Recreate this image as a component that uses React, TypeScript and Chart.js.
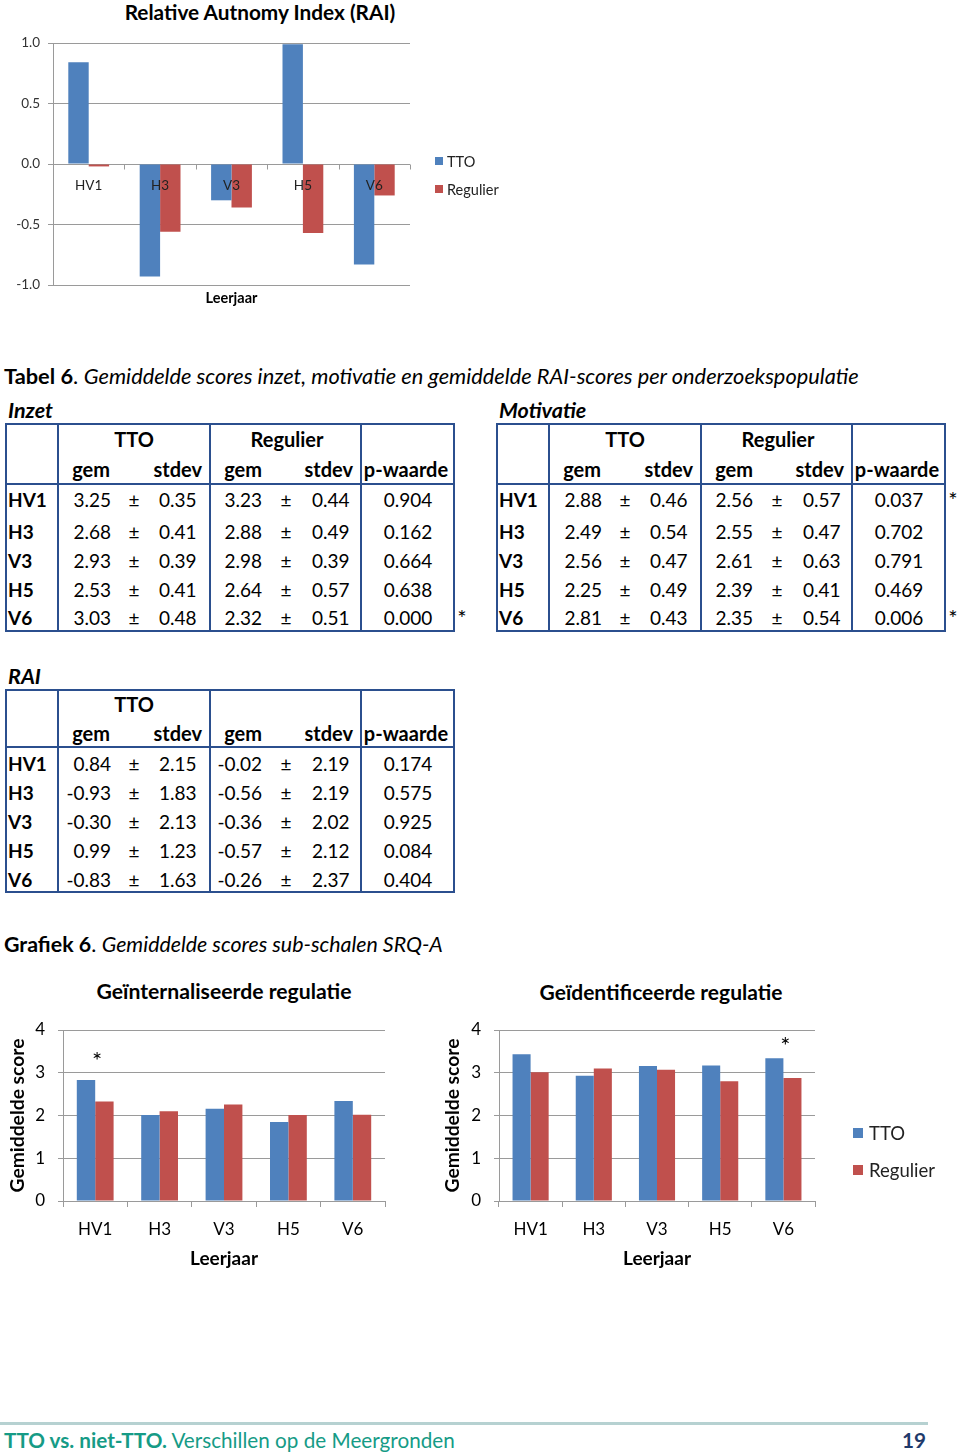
import React, { useEffect, useRef } from "react";
import { Chart, registerables } from "chart.js";

Chart.register(...registerables);

const FONT = "Lato, 'Noto Sans', sans-serif";
Chart.defaults.font.family = FONT;

// ---------- DATA ----------
const categories = ["HV1", "H3", "V3", "H5", "V6"];

// RAI (chart + table)
const raiTTO = [0.84, -0.93, -0.3, 0.99, -0.83];
const raiReg = [-0.02, -0.56, -0.36, -0.57, -0.26];
const raiTTOsd = ["2.15", "1.83", "2.13", "1.23", "1.63"];
const raiRegsd = ["2.19", "2.19", "2.02", "2.12", "2.37"];
const raiP = ["0.174", "0.575", "0.925", "0.084", "0.404"];
const raiSig = [false, false, false, false, false];
const raiTicks = [-1, -0.5, 0, 0.5, 1];

// Inzet table
const inzetTTOgem = ["3.25", "2.68", "2.93", "2.53", "3.03"];
const inzetTTOsd = ["0.35", "0.41", "0.39", "0.41", "0.48"];
const inzetReggem = ["3.23", "2.88", "2.98", "2.64", "2.32"];
const inzetRegsd = ["0.44", "0.49", "0.39", "0.57", "0.51"];
const inzetP = ["0.904", "0.162", "0.664", "0.638", "0.000"];
const inzetSig = [false, false, false, false, true];

// Motivatie table
const motTTOgem = ["2.88", "2.49", "2.56", "2.25", "2.81"];
const motTTOsd = ["0.46", "0.54", "0.47", "0.49", "0.43"];
const motReggem = ["2.56", "2.55", "2.61", "2.39", "2.35"];
const motRegsd = ["0.57", "0.47", "0.63", "0.41", "0.54"];
const motP = ["0.037", "0.702", "0.791", "0.469", "0.006"];
const motSig = [true, false, false, false, true];

// Grafiek 6
const internTTO = [2.83, 2.01, 2.16, 1.85, 2.34];
const internReg = [2.33, 2.1, 2.26, 2.01, 2.02];
const internSig = [true, false, false, false, false];
const identTTO = [3.43, 2.93, 3.16, 3.17, 3.34];
const identReg = [3.01, 3.1, 3.07, 2.8, 2.88];
const identSig = [false, false, false, false, true];
const scoreTicks = [0, 1, 2, 3, 4];

const seriesNames = ["TTO", "Regulier"];

// ---------- STYLE ----------
const BLUE = "#4f81bd";
const RED = "#c0504d";
const GRID = "#9a9a9a";
const TBORDER = "#2b4f8e";
const TEAL = "#169b86";

// ---------- PLUGINS ----------
const zeroAxisPlugin = {
  id: "zeroAxis",
  afterDatasetsDraw(chart: any) {
    const { ctx, scales } = chart;
    const x = scales.x;
    const y = scales.y;
    const y0 = Math.round(y.getPixelForValue(0)) + 0.5;
    const n = chart.data.labels.length;
    const step = (x.right - x.left) / n;
    ctx.save();
    ctx.strokeStyle = GRID;
    ctx.lineWidth = 1;
    for (let i = 0; i <= n; i++) {
      const px = Math.round(x.left + i * step) + 0.5;
      ctx.beginPath();
      ctx.moveTo(px, y0);
      ctx.lineTo(px, y0 + 5);
      ctx.stroke();
    }
    ctx.fillStyle = "#222";
    ctx.font = `13.5px ${FONT}`;
    ctx.textAlign = "center";
    ctx.textBaseline = "middle";
    chart.data.labels.forEach((lab: string, i: number) => {
      ctx.fillText(lab, x.getPixelForValue(i), y0 + 21);
    });
    ctx.restore();
  },
};

const sigPlugin = {
  id: "sig",
  afterDatasetsDraw(chart: any, _args: any, opts: any) {
    const flags: boolean[] = opts.flags || [];
    const { ctx, scales } = chart;
    ctx.save();
    ctx.fillStyle = "#000";
    ctx.font = `24px ${FONT}`;
    ctx.textAlign = "center";
    ctx.textBaseline = "alphabetic";
    flags.forEach((f, i) => {
      if (!f) return;
      const vals = chart.data.datasets.map((d: any) => d.data[i]);
      const top = scales.y.getPixelForValue(Math.max(...vals));
      ctx.fillText("*", scales.x.getPixelForValue(i) + 2, top - opts.offset);
    });
    ctx.restore();
  },
};

function raiConfig(): any {
  return {
    type: "bar",
    data: {
      labels: categories,
      datasets: [
        { label: seriesNames[0], data: raiTTO, backgroundColor: BLUE, categoryPercentage: 2 / 3.5, barPercentage: 1 },
        { label: seriesNames[1], data: raiReg, backgroundColor: RED, categoryPercentage: 2 / 3.5, barPercentage: 1 },
      ],
    },
    options: {
      responsive: false,
      animation: false,
      devicePixelRatio: 1,
      layout: { padding: { left: 0, right: 110, top: 43, bottom: 0 } },
      plugins: {
        legend: { display: false },
        tooltip: { enabled: false },
        title: { display: false },
      },
      scales: {
        x: {
          grid: { display: false },
          border: { display: false },
          ticks: { display: false },
          title: { display: true, text: "Leerjaar", color: "#000", font: { size: 14.5, weight: "bold" }, padding: { top: 0, bottom: 13 } },
          afterFit: (s: any) => { s.height = 35; },
        },
        y: {
          min: -1,
          max: 1,
          afterBuildTicks: (s: any) => { s.ticks = raiTicks.map((v) => ({ value: v })); },
          ticks: { color: "#333", font: { size: 13.5 }, padding: 8, callback: (v: any) => Number(v).toFixed(1) },
          grid: { color: GRID, tickLength: 5 },
          border: { color: GRID },
          afterFit: (s: any) => { s.width = 53; },
        },
      },
    },
    plugins: [zeroAxisPlugin],
  };
}

function scoreConfig(tto: number[], reg: number[], sig: boolean[], yWidth: number, yTitlePad: number, rightPad: number, sigOffset: number): any {
  return {
    type: "bar",
    data: {
      labels: categories,
      datasets: [
        { label: seriesNames[0], data: tto, backgroundColor: BLUE, categoryPercentage: 2 / 3.5, barPercentage: 1 },
        { label: seriesNames[1], data: reg, backgroundColor: RED, categoryPercentage: 2 / 3.5, barPercentage: 1 },
      ],
    },
    options: {
      responsive: false,
      animation: false,
      devicePixelRatio: 1,
      layout: { padding: { left: 0, right: rightPad, top: 65, bottom: 0 } },
      plugins: {
        legend: { display: false },
        tooltip: { enabled: false },
        title: { display: false },
        sig: { flags: sig, offset: sigOffset },
      },
      scales: {
        x: {
          grid: { display: true, drawOnChartArea: false, drawTicks: true, tickLength: 6, offset: true, color: GRID },
          border: { color: GRID },
          ticks: { color: "#000", font: { size: 17 }, padding: 12 },
          title: { display: true, text: "Leerjaar", color: "#000", font: { size: 19, weight: "bold" }, padding: { top: 0, bottom: 5 } },
          afterFit: (s: any) => { s.height = 74; },
        },
        y: {
          min: 0,
          max: 4,
          afterBuildTicks: (s: any) => { s.ticks = scoreTicks.map((v) => ({ value: v })); },
          ticks: { color: "#000", font: { size: 17 }, padding: 13 },
          grid: { color: GRID, tickLength: 5 },
          border: { color: GRID },
          title: { display: true, text: "Gemiddelde score", color: "#000", font: { size: 19.3, weight: "bold" }, padding: { top: yTitlePad, bottom: 0 } },
          afterFit: (s: any) => { s.width = yWidth; },
        },
      },
    },
    plugins: [sigPlugin],
  };
}

// ---------- COMPONENTS ----------
function ChartCanvas(props: { left: number; top: number; width: number; height: number; make: () => any }) {
  const ref = useRef<HTMLCanvasElement>(null);
  useEffect(() => {
    const c = new Chart(ref.current as HTMLCanvasElement, props.make());
    return () => c.destroy();
  }, []);
  return (
    <canvas
      ref={ref}
      width={props.width}
      height={props.height}
      style={{ position: "absolute", left: props.left, top: props.top, width: props.width, height: props.height }}
    />
  );
}

function T(props: { x: number; y: number; size?: number; bold?: boolean; italic?: boolean; align?: "left" | "center" | "right"; color?: string; children: any }) {
  const size = props.size ?? 19;
  const lh = Math.round(size * 1.2);
  const style: any = {
    position: "absolute",
    top: props.y - lh / 2,
    fontSize: size,
    lineHeight: lh + "px",
    fontWeight: props.bold ? 700 : 400,
    fontStyle: props.italic ? "italic" : "normal",
    color: props.color ?? "#000",
    whiteSpace: "nowrap",
    fontFamily: FONT,
  };
  const a = props.align ?? "left";
  if (a === "left") style.left = props.x;
  else if (a === "center") { style.left = props.x - 400; style.width = 800; style.textAlign = "center"; }
  else { style.left = props.x - 800; style.width = 800; style.textAlign = "right"; }
  return <div style={style}>{props.children}</div>;
}

function Line(props: { x: number; y: number; w: number; h: number; color?: string }) {
  return <div style={{ position: "absolute", left: props.x, top: props.y, width: props.w, height: props.h, background: props.color ?? TBORDER }} />;
}

function StatTable(props: {
  x: number; y: number; h: number; headLine: number; h1: number; h2: number; rowYs: number[];
  regHeader: boolean; ttoGem: string[]; ttoSd: string[]; regGem: string[]; regSd: string[]; p: string[]; sig: boolean[];
}) {
  const { x, y } = props;
  const W = 450;
  const HS = 20;
  const items: any[] = [];
  items.push(<div key="box" style={{ position: "absolute", left: x, top: y, width: W, height: props.h, border: `2px solid ${TBORDER}`, boxSizing: "border-box" }} />);
  [53, 205, 356].forEach((cx, i) => items.push(<Line key={"v" + i} x={x + cx - 1} y={y} w={2} h={props.h} />));
  items.push(<Line key="hl" x={x} y={y + props.headLine - 1} w={W} h={2} />);
  items.push(<T key="tto" x={x + 129} y={y + props.h1} size={HS} bold align="center">TTO</T>);
  if (props.regHeader) items.push(<T key="reg" x={x + 282} y={y + props.h1} size={HS} bold align="center">Regulier</T>);
  items.push(<T key="g1" x={x + 105} y={y + props.h2} size={HS} bold align="right">gem</T>);
  items.push(<T key="s1" x={x + 197} y={y + props.h2} size={HS} bold align="right">stdev</T>);
  items.push(<T key="g2" x={x + 257} y={y + props.h2} size={HS} bold align="right">gem</T>);
  items.push(<T key="s2" x={x + 348} y={y + props.h2} size={HS} bold align="right">stdev</T>);
  items.push(<T key="pw" x={x + 401} y={y + props.h2} size={HS} bold align="center">p-waarde</T>);
  categories.forEach((cat, i) => {
    const ry = y + props.rowYs[i];
    items.push(<T key={"c" + i} x={x + 3} y={ry} bold>{cat}</T>);
    items.push(<T key={"tg" + i} x={x + 106} y={ry} align="right">{props.ttoGem[i]}</T>);
    items.push(<T key={"tp" + i} x={x + 129} y={ry} align="center">±</T>);
    items.push(<T key={"ts" + i} x={x + 154} y={ry}>{props.ttoSd[i]}</T>);
    items.push(<T key={"rg" + i} x={x + 257} y={ry} align="right">{props.regGem[i]}</T>);
    items.push(<T key={"rp" + i} x={x + 281} y={ry} align="center">±</T>);
    items.push(<T key={"rs" + i} x={x + 307} y={ry}>{props.regSd[i]}</T>);
    items.push(<T key={"p" + i} x={x + 403} y={ry} align="center">{props.p[i]}</T>);
    if (props.sig[i]) items.push(<T key={"a" + i} x={x + 457} y={ry + 1} size={22} align="center">*</T>);
  });
  return <>{items}</>;
}

function Legend(props: { x: number; y1: number; y2: number; size: number; box: number; gap: number }) {
  const rows = [
    { name: seriesNames[0], color: BLUE, y: props.y1 },
    { name: seriesNames[1], color: RED, y: props.y2 },
  ];
  return (
    <>
      {rows.map((r) => (
        <React.Fragment key={r.name}>
          <div style={{ position: "absolute", left: props.x, top: r.y - props.box / 2, width: props.box, height: props.box, background: r.color }} />
          <T x={props.x + props.box + props.gap} y={r.y} size={props.size} color="#222">{r.name}</T>
        </React.Fragment>
      ))}
    </>
  );
}

export default function App() {
  return (
    <div style={{ position: "absolute", left: 0, top: 0, width: 960, height: 1455, background: "#fff", overflow: "hidden", fontFamily: FONT }}>
      {/* RAI chart */}
      <T x={260} y={11} size={20.8} bold align="center">Relative Autnomy Index (RAI)</T>
      <ChartCanvas left={0} top={0} width={520} height={320} make={raiConfig} />
      <Legend x={435} y1={161} y2={189} size={14.5} box={8} gap={4} />

      {/* Tabel 6 */}
      <T x={4} y={376} size={21.8}>
        <b>Tabel 6</b>. <i>Gemiddelde scores inzet, motivatie en gemiddelde RAI-scores per onderzoekspopulatie</i>
      </T>
      <T x={8} y={410} size={21.5} bold italic>Inzet</T>
      <T x={499} y={410} size={21.5} bold italic>Motivatie</T>
      <StatTable x={5} y={423} h={209} headLine={61} h1={16} h2={46} rowYs={[76, 108, 137, 166, 194]} regHeader
        ttoGem={inzetTTOgem} ttoSd={inzetTTOsd} regGem={inzetReggem} regSd={inzetRegsd} p={inzetP} sig={inzetSig} />
      <StatTable x={496} y={423} h={209} headLine={61} h1={16} h2={46} rowYs={[76, 108, 137, 166, 194]} regHeader
        ttoGem={motTTOgem} ttoSd={motTTOsd} regGem={motReggem} regSd={motRegsd} p={motP} sig={motSig} />
      <T x={8} y={676} size={21.5} bold italic>RAI</T>
      <StatTable x={5} y={689} h={204} headLine={58} h1={15} h2={44} rowYs={[74, 103, 132, 161, 190]} regHeader={false}
        ttoGem={raiTTO.map((v) => v.toFixed(2))} ttoSd={raiTTOsd} regGem={raiReg.map((v) => v.toFixed(2))} regSd={raiRegsd} p={raiP} sig={raiSig} />

      {/* Grafiek 6 */}
      <T x={4} y={944} size={21.4}>
        <b>Grafiek 6</b>. <i>Gemiddelde scores sub-schalen SRQ-A</i>
      </T>
      <T x={224} y={991} size={21.2} bold align="center">Geïnternaliseerde regulatie</T>
      <T x={661} y={991} size={21} bold align="center">Geïdentificeerde regulatie</T>
      <ChartCanvas left={0} top={965} width={448} height={310}
        make={() => scoreConfig(internTTO, internReg, internSig, 63, 6, 63, 11)} />
      <ChartCanvas left={430} top={965} width={462} height={310}
        make={() => scoreConfig(identTTO, identReg, identSig, 69, 11.2, 77, 4)} />
      <Legend x={853} y1={1133} y2={1170} size={18.5} box={10} gap={6} />

      {/* Footer */}
      <Line x={0} y={1422} w={928} h={3} color="#b6d1d1" />
      <T x={4} y={1440} size={20.7} color={TEAL}>
        <b>TTO vs. niet-TTO.</b> Verschillen op de Meergronden
      </T>
      <T x={914} y={1440} size={20.7} bold align="center" color="#1f3a6b">19</T>
    </div>
  );
}
